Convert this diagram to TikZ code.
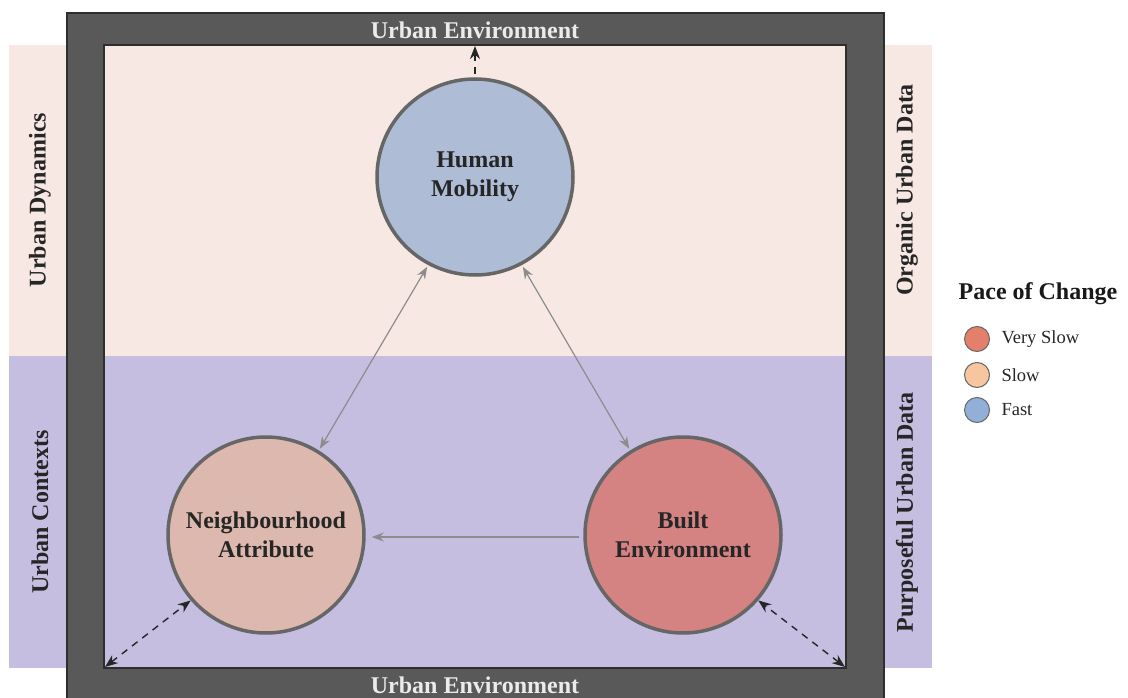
\documentclass[tikz,border=0pt]{standalone}
\usepackage{fontspec}
\setmainfont{Liberation Serif}
\usetikzlibrary{arrows.meta}
\definecolor{bandtop}{HTML}{F7E8E3}
\definecolor{bandbot}{HTML}{C5BEE0}
\definecolor{frame}{HTML}{595959}
\definecolor{frameedge}{HTML}{2E2E2E}
\definecolor{hmfill}{HTML}{AFBCD6}
\definecolor{nafill}{HTML}{DDB8AE}
\definecolor{befill}{HTML}{D48282}
\definecolor{ringcol}{HTML}{666666}
\definecolor{linkcol}{HTML}{8C8C8C}
\definecolor{lgvslow}{HTML}{E47F6C}
\definecolor{lgslow}{HTML}{F7C6A0}
\definecolor{lgfast}{HTML}{92B0D7}
\tikzset{
  factor/.style={circle, draw=ringcol, line width=3.5pt, minimum size=196pt, inner sep=0pt,
    align=center, font=\fontsize{24}{29}\selectfont\bfseries, text=black!85},
  link/.style={draw=linkcol, line width=1.2pt, -{Stealth[length=12pt,width=9pt]}},
  biglink/.style={link, {Stealth[length=12pt,width=9pt]}-{Stealth[length=12pt,width=9pt]}},
  envone/.style={draw=black!85, line width=1.4pt, dash pattern=on 7pt off 6pt,
    -{Stealth[length=13pt,width=10pt]}},
  envlink/.style={envone, {Stealth[length=13pt,width=10pt]}-{Stealth[length=13pt,width=10pt]}},
  sidelabel/.style={rotate=90, font=\fontsize{24}{28}\selectfont\bfseries, text=black!85},
  framelabel/.style={font=\fontsize{24}{28}\selectfont\bfseries, text=white!92!black},
  legdot/.style={circle, draw=ringcol, line width=1pt, minimum size=25pt, inner sep=0pt},
  legtext/.style={anchor=west, font=\fontsize{18.5}{22}\selectfont, text=black!85},
}
\begin{document}
\begin{tikzpicture}[x=1pt,y=-1pt]
\useasboundingbox (0,0) rectangle (1128,698);
\fill[white] (0,0) rectangle (1128,698);
% background bands
\fill[bandtop] (9,45) rectangle (932,356);
\fill[bandbot] (9,356) rectangle (932,668);
% dark urban-environment frame
\fill[frame, draw=frameedge, line width=1.5pt, even odd rule]
  (67,13) rectangle (884,700) (104,45) rectangle (846,668);
\node[framelabel] (envtop) at (475,30) {Urban Environment};
\node[framelabel] (envbot) at (475,685) {Urban Environment};
% side labels
\node[sidelabel] (dyn) at (40,200) {Urban Dynamics};
\node[sidelabel] (ctx) at (40,512) {Urban Contexts};
\node[sidelabel] (org) at (907,190) {Organic Urban Data};
\node[sidelabel] (pur) at (907,512) {Purposeful Urban Data};
% factors
\node[factor, fill=hmfill] (hm) at (475,177) {Human\\Mobility};
\node[factor, fill=nafill] (na) at (266,535) {Neighbourhood\\Attribute};
\node[factor, fill=befill] (be) at (683,535) {Built\\Environment};
% links between factors
\draw[biglink, shorten <=2pt, shorten >=2pt] (hm.242) -- (na.58);
\draw[biglink, shorten <=2pt, shorten >=2pt] (hm.298) -- (be.122);
\draw[link, shorten <=4pt, shorten >=6pt] ([yshift=-2pt]be.west) -- ([yshift=-2pt]na.east);
% links to the urban environment
\coordinate (topin) at (475,46);
\coordinate (blin) at (105,667);
\coordinate (brin) at (845,667);
\draw[envone, shorten <=3pt] (hm.north) -- (topin);
\draw[envlink] (blin) -- (na.-139);
\draw[envlink] (brin) -- (be.-41);
% legend
\node[font=\fontsize{24}{28}\selectfont\bfseries, text=black!90] (legtitle) at (1038,294) {Pace of Change};
\node[legdot, fill=lgvslow] (lg1) at (977,339) {};
\node[legdot, fill=lgslow] (lg2) at (977,375) {};
\node[legdot, fill=lgfast] (lg3) at (977,410) {};
\node[legtext] (lt1) at (998,339) {Very Slow};
\node[legtext] (lt2) at (998,375) {Slow};
\node[legtext] (lt3) at (998,410) {Fast};
\end{tikzpicture}
\end{document}
